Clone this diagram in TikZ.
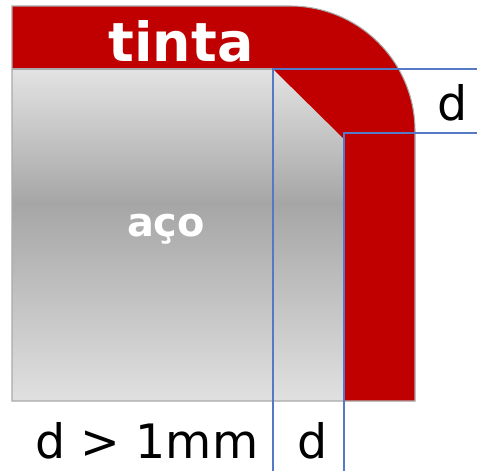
\documentclass[tikz,border=0pt]{standalone}
\usepackage{fontspec}
\setmainfont{DejaVu Sans}
\definecolor{tintared}{HTML}{C00000}
\definecolor{dimblue}{HTML}{5579C4}
\definecolor{edgegray}{HTML}{A9A9A9}
\pgfdeclareverticalshading{steel}{100bp}{color(0bp)=(white!88!black); color(25bp)=(white!88!black);
    color(50bp)=(white!65!black); color(67bp)=(white!89!black); color(100bp)=(white!89!black)}
\begin{document}
\begin{tikzpicture}[
    x=0.02cm, y=-0.02cm,
    dimline/.style={draw=dimblue, line width=1pt},
    dimlabel/.style={font=\fontsize{27}{30}\selectfont, text=black, inner sep=0pt, anchor=base},
    whitelabel/.style={text=white, inner sep=0pt, anchor=base}
]
    \useasboundingbox (0, 0) rectangle (477, 471);

    % aço
    \path[shading=steel]
        (12, 6) -- (290, 6) arc[start angle=-90, end angle=0, radius=125] -- (415, 401) -- (12, 401) -- cycle;

    % tinta
    \fill[tintared] (12, 6) -- (290, 6) arc[start angle=-90, end angle=0, radius=125]
        -- (415, 401) -- (344, 401) -- (344, 139) -- (273, 69) -- (12, 69) -- cycle;
    \draw[edgegray, line width=0.6pt] (12, 6) -- (290, 6) arc[start angle=-90, end angle=0, radius=125]
        -- (415, 401) -- (12, 401) -- cycle;
    \draw[edgegray, line width=0.6pt] (12, 69) -- (273, 69);

    \node[whitelabel, font=\fontsize{30.7}{33}\selectfont\bfseries] (tinta) at (181, 61) {tinta};
    \node[whitelabel, font=\fontsize{22.7}{25}\selectfont\bfseries] (aco) at (166, 236) {aço};

    \coordinate (a1) at (273, 471);
    \coordinate (a2) at (273, 69);
    \coordinate (a3) at (477, 69);
    \coordinate (b1) at (344, 471);
    \coordinate (b2) at (344, 133);
    \coordinate (b3) at (477, 133);

    \draw[dimline] (a1) -- (a2) -- (a3);
    \draw[dimline] (b1) -- (b2) -- (b3);

    \node[dimlabel] (dright) at (452.5, 120) {d};
    \node[dimlabel] (dbottom) at (313, 458) {d};
    \node[dimlabel] (dmin) at (147, 458) {d > 1mm};
\end{tikzpicture}
\end{document}
